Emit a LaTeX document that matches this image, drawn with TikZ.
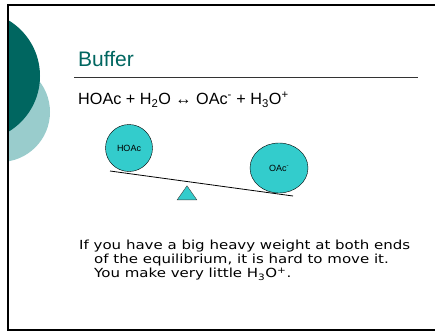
\documentclass[tikz,border=0pt]{standalone}
\usepackage{fontspec}
\setmainfont{Liberation Sans}
\newfontfamily\verdfont[FakeStretch=1.2]{DejaVu Sans}
\usepackage{xcolor}
\usetikzlibrary{positioning, shapes.geometric}
\definecolor{deepteal}{HTML}{006660}
\definecolor{paleteal}{HTML}{99CCCC}
\definecolor{ballteal}{HTML}{33CCCC}

\begin{document}
\begin{tikzpicture}[
    x=1pt, y=-1pt,
    ball/.style={ellipse, draw=black, fill=ballteal, inner sep=0pt, font=\fontsize{9}{10}\selectfont},
    pivot/.style={isosceles triangle, shape border rotate=90, isosceles triangle apex angle=70, draw=black!75, fill=ballteal, inner sep=0pt, minimum height=14pt, minimum width=18pt},
    beam/.style={line width=0.8pt, black}
]
\useasboundingbox (0,0) rectangle (435,331);
% slide decoration
\begin{scope}
\clip (8,5) rectangle (435,330);
\fill[paleteal] (0,112) circle (50);
\fill[deepteal] (-25,76) circle (65);
\end{scope}
\draw[line width=2pt] (436,5) -- (8,5) -- (8,330) -- (436,330);
% title
\node[anchor=base west, text=deepteal, font=\fontsize{21}{24}\selectfont, inner sep=0pt] (title) at (78,67) {Buffer};
\coordinate (ruleL) at (74,77);
\coordinate (ruleR) at (418,77);
\draw[black!80, line width=0.8pt] (ruleL) -- (ruleR);
% reaction
\node[anchor=base west, font=\fontsize{16.2}{18}\selectfont, inner sep=0pt] (eqn) at (78,105)
  {HOAc + H\textsubscript{2}O ↔ OAc\textsuperscript{-} + H\textsubscript{3}O\textsuperscript{+}};
% seesaw
\node[ball, minimum width=47pt, minimum height=47pt] (hoac) at (129,148) {HOAc};
\node[ball, minimum width=58pt, minimum height=50pt] (oac) at (279,168) {OAc\textsuperscript{-}};
\coordinate (beamL) at (110,171);
\coordinate (beamR) at (293,196);
\draw[beam] (beamL) -- (beamR);
\node[pivot, anchor=south] (fulcrum) at (187,200) {};
% note
\node[anchor=north west, align=left, inner sep=0pt, font=\verdfont\fontsize{12.5}{14}\selectfont] (note) at (79,240)
  {If you have a big heavy weight at both ends\\
   \hspace*{15pt}of the equilibrium, it is hard to move it.\\
   \hspace*{15pt}You make very little H\textsubscript{3}O\textsuperscript{+}.};
\end{tikzpicture}
\end{document}
